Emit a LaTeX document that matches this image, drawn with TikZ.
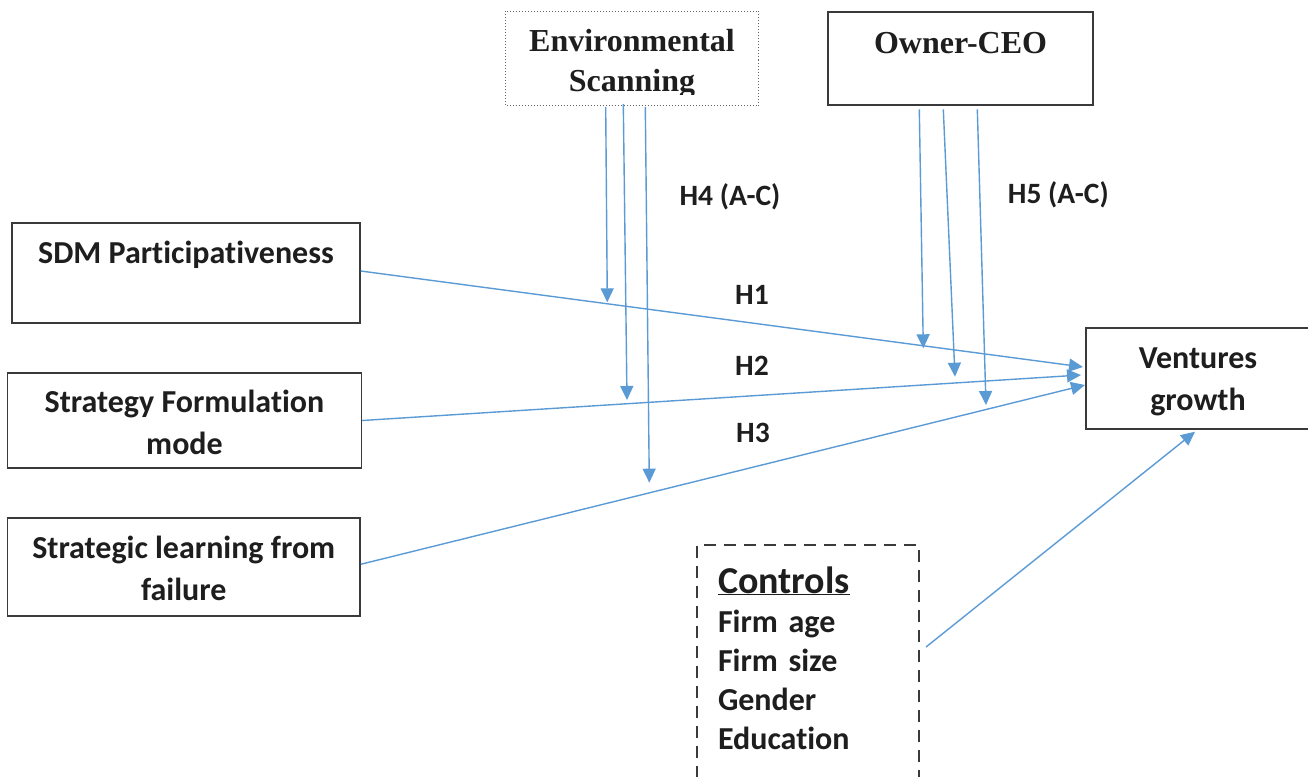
\documentclass[tikz,border=0pt]{standalone}
\usepackage{fontspec}
\setmainfont{Carlito}[Ligatures={NoCommon}]
\newfontfamily\serifbold{Liberation Serif}
\usetikzlibrary{arrows.meta}
\definecolor{linkblue}{HTML}{5B9BD5}
\definecolor{boxgray}{HTML}{3A3A3A}
\definecolor{inkdark}{HTML}{1E1E1E}
\begin{document}
\begin{tikzpicture}[x=1pt,y=-1pt,
  box/.style={draw=boxgray, line width=1.4pt, inner sep=0pt, align=center, text=inkdark,
    font=\fontsize{32}{42}\selectfont\bfseries},
  serifbox/.style={box, font=\fontsize{32}{40}\selectfont\serifbold\bfseries},
  link/.style={draw=linkblue, line width=1.4pt, -{Triangle[length=14pt,width=13pt]}},
  hlabel/.style={font=\fontsize{29.5}{34}\selectfont\bfseries, text=inkdark, inner sep=0pt}
]
\useasboundingbox (0,0) rectangle (1308,776);
\fill[white] (0,0) rectangle (1308,776);

% left boxes
\node[box, minimum width=348pt, text height=40pt, text depth=60pt] (sdm) at (186,273) {SDM Participativeness};
\node[box, minimum width=354pt, text height=81pt, text depth=14pt] (sfm) at (184.5,420.5) {Strategy Formulation\\mode};
\node[box, minimum width=352.5pt, text height=82pt, text depth=16pt] (slf) at (183.75,567) {Strategic learning from\\failure};

% outcome
\node[box, minimum width=224pt, text height=82pt, text depth=19pt] (vg) at (1198,378.5) {Ventures\\growth};

% moderators
\node[serifbox, minimum width=265pt, text height=41pt, text depth=52pt] (owner) at (960.5,58.5) {Owner-CEO};
\begin{scope}
  \clip (490,0) rectangle (770,94);
  \node[serifbox, draw=none, minimum width=252pt, text height=80pt, text depth=13pt] (env) at (632,58.5) {Environmental\\Scanning};
\end{scope}
\draw[draw=gray!80!black, line width=1pt, dotted] (env.north west) rectangle (env.south east);

% controls
\node[box, draw=boxgray, line width=2.4pt, dash pattern=on 12pt off 8pt, align=left,
  text width=180pt, inner xsep=21pt, inner ysep=0pt, text height=48pt, text depth=207pt,
  font=\fontsize{32}{39}\selectfont\bfseries] (ctrl) at (808,672.5)
  {{\fontsize{38}{39}\selectfont\underline{Controls}}\\Firm age\\Firm size\\Gender\\Education};

% hypothesis labels
\node[hlabel] (h4) at (730,196.7) {H4 (A-C)};
\node[hlabel] (h5) at (1058.3,195) {H5 (A-C)};
\node[hlabel] (h1) at (752,295) {H1};
\node[hlabel] (h2) at (752,366) {H2};
\node[hlabel] (h3) at (753,433) {H3};

% arrow endpoints
\coordinate (t1) at (1083,367);
\coordinate (t2) at (1081,375);
\coordinate (t3) at (1085,385);
\coordinate (e1s) at (605.7,107);
\coordinate (e1t) at (607.3,302.3);
\coordinate (e2s) at (623.3,104);
\coordinate (e2t) at (627,400);
\coordinate (e3s) at (645.3,107);
\coordinate (e3t) at (649.3,482.7);
\coordinate (o1s) at (919.3,109.3);
\coordinate (o1t) at (923.3,348.3);
\coordinate (o2s) at (943.3,109.3);
\coordinate (o2t) at (955,376.7);
\coordinate (o3s) at (977.3,109.3);
\coordinate (o3t) at (986,405);
\coordinate (cs) at (926,647);
\coordinate (ct) at (1195,431.7);

% main paths
\draw[link] ([yshift=2pt]sdm.east) -- (t1);
\draw[link] (sfm.east) -- (t2);
\draw[link] ([yshift=2.7pt]slf.east) -- (t3);

% moderating arrows
\draw[link] (e1s) -- (e1t);
\draw[link] (e2s) -- (e2t);
\draw[link] (e3s) -- (e3t);
\draw[link] (o1s) -- (o1t);
\draw[link] (o2s) -- (o2t);
\draw[link] (o3s) -- (o3t);

% controls
\draw[link] (cs) -- (ct);
\end{tikzpicture}
\end{document}
